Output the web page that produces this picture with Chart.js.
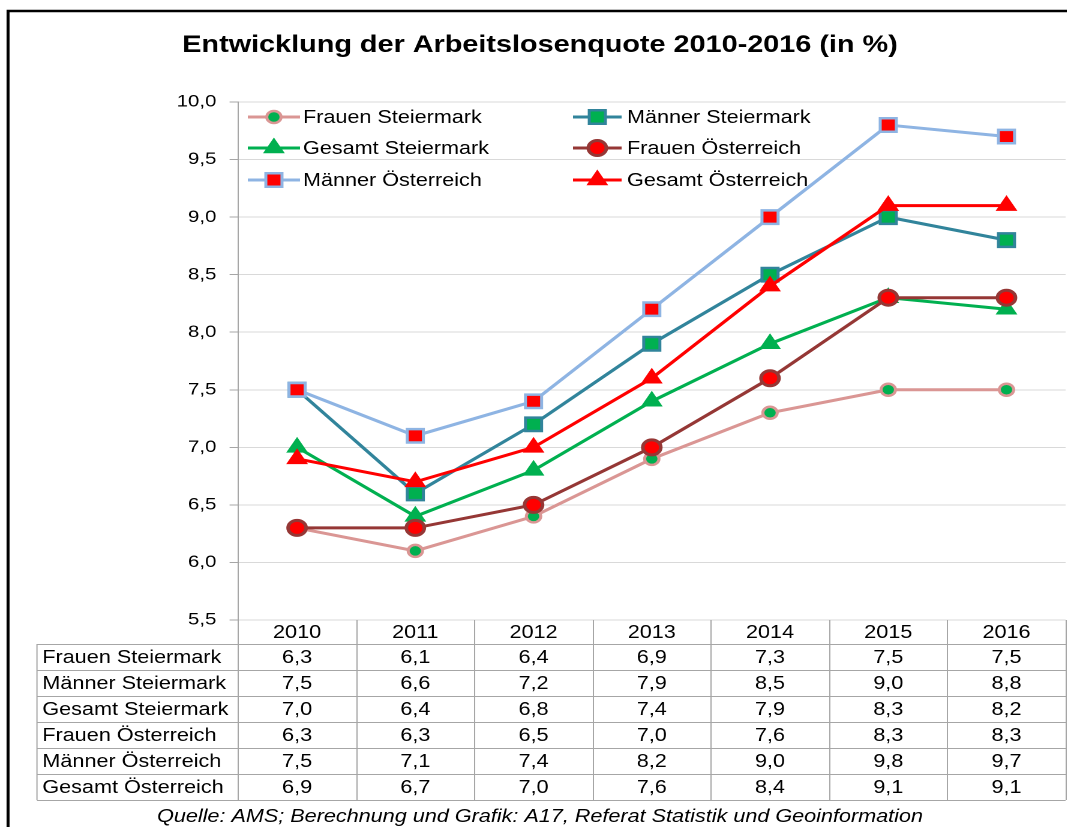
<!DOCTYPE html>
<html>
<head>
<meta charset="utf-8">
<script src="https://cdn.jsdelivr.net/npm/chart.js@4.4.1/dist/chart.umd.min.js"></script>
<style>
html, body { margin: 0; padding: 0; background: #fff; overflow: hidden; width: 1067px; height: 827px; }
#wrap { position: absolute; left: 0; top: 0; width: 900px; height: 827px; transform: scaleX(1.2); transform-origin: 0 0; }
</style>
</head>
<body>
<div id="wrap"><canvas id="chart" width="900" height="827"></canvas></div>
<script>
// ---- data ----
const years = ['2010', '2011', '2012', '2013', '2014', '2015', '2016'];
const seriesNames = ['Frauen Steiermark', 'Männer Steiermark', 'Gesamt Steiermark', 'Frauen Österreich', 'Männer Österreich', 'Gesamt Österreich'];
const frauenSteiermark   = [6.3, 6.1, 6.4, 6.9, 7.3, 7.5, 7.5];
const maennerSteiermark  = [7.5, 6.6, 7.2, 7.9, 8.5, 9.0, 8.8];
const gesamtSteiermark   = [7.0, 6.4, 6.8, 7.4, 7.9, 8.3, 8.2];
const frauenOesterreich  = [6.3, 6.3, 6.5, 7.0, 7.6, 8.3, 8.3];
const maennerOesterreich = [7.5, 7.1, 7.4, 8.2, 9.0, 9.8, 9.7];
const gesamtOesterreich  = [6.9, 6.7, 7.0, 7.6, 8.4, 9.1, 9.1];
const yMin = 5.5, yMax = 10.0, yStep = 0.5;
const titleText = 'Entwicklung der Arbeitslosenquote 2010-2016 (in %)';
const sourceText = 'Quelle: AMS; Berechnung und Grafik: A17, Referat Statistik und Geoinformation';

// ---- styles ----
const FONT = "'Liberation Sans', Arial, sans-serif";
const fmt = v => v.toFixed(1).replace('.', ',');
const styles = [
  { line: '#DA9694', fill: '#00B050', stroke: '#DA9694', shape: 'circle',   r: 6,   bw: 2.5 },
  { line: '#31849B', fill: '#00B050', stroke: '#31849B', shape: 'rect',     r: 9.5, bw: 2.5 },
  { line: '#00B050', fill: '#00B050', stroke: '#00B050', shape: 'triangle', r: 9.5, bw: 1 },
  { line: '#953735', fill: '#FF0000', stroke: '#953735', shape: 'circle',   r: 7.5, bw: 3 },
  { line: '#8EB4E3', fill: '#FF0000', stroke: '#8EB4E3', shape: 'rect',     r: 9.5, bw: 2.5 },
  { line: '#FF0000', fill: '#FF0000', stroke: '#FF0000', shape: 'triangle', r: 9.5, bw: 1 }
];
const seriesData = [frauenSteiermark, maennerSteiermark, gesamtSteiermark, frauenOesterreich, maennerOesterreich, gesamtOesterreich];

const datasets = seriesNames.map((name, i) => ({
  label: name,
  data: seriesData[i],
  borderColor: styles[i].line,
  borderWidth: 3,
  backgroundColor: styles[i].fill,
  pointStyle: styles[i].shape,
  pointRadius: styles[i].r,
  pointHoverRadius: styles[i].r,
  pointBackgroundColor: styles[i].fill,
  pointBorderColor: styles[i].stroke,
  pointBorderWidth: styles[i].bw,
  tension: 0,
  fill: false,
  order: seriesNames.length - i
}));

function drawMarker(ctx, s, x, y) {
  ctx.save();
  ctx.fillStyle = s.fill;
  ctx.strokeStyle = s.stroke;
  ctx.lineWidth = s.bw;
  ctx.beginPath();
  if (s.shape === 'circle') {
    ctx.arc(x, y, s.r, 0, Math.PI * 2);
  } else if (s.shape === 'rect') {
    const h = Math.SQRT1_2 * s.r;
    ctx.rect(x - h, y - h, 2 * h, 2 * h);
  } else {
    let a = 0;
    ctx.moveTo(x + Math.sin(a) * s.r, y - Math.cos(a) * s.r);
    a += 2 * Math.PI / 3;
    ctx.lineTo(x + Math.sin(a) * s.r, y - Math.cos(a) * s.r);
    a += 2 * Math.PI / 3;
    ctx.lineTo(x + Math.sin(a) * s.r, y - Math.cos(a) * s.r);
    ctx.closePath();
  }
  ctx.fill();
  ctx.stroke();
  ctx.restore();
}

const decorPlugin = {
  id: 'decor',
  afterDraw(chart) {
    const ctx = chart.ctx;
    const area = chart.chartArea;
    const xs = chart.scales.x;
    ctx.save();

    // frame
    ctx.strokeStyle = '#000';
    ctx.lineWidth = 2.5;
    ctx.strokeRect(6.7, 11, 2000, 2000);

    // title
    ctx.fillStyle = '#000';
    ctx.font = 'bold 24px ' + FONT;
    ctx.textAlign = 'center';
    ctx.textBaseline = 'alphabetic';
    ctx.fillText(titleText, 450, 52);

    // legend (two columns, three rows)
    const legRows = [117, 148, 180];
    const legCols = [
      { x1: 206.5, x2: 250, tx: 252.5 },
      { x1: 477.5, x2: 518, tx: 522.5 }
    ];
    ctx.font = '18px ' + FONT;
    ctx.textAlign = 'left';
    ctx.textBaseline = 'middle';
    seriesNames.forEach((name, i) => {
      const col = legCols[i % 2];
      const y = legRows[Math.floor(i / 2)];
      const s = styles[i];
      ctx.strokeStyle = s.line;
      ctx.lineWidth = 3;
      ctx.beginPath();
      ctx.moveTo(col.x1, y);
      ctx.lineTo(col.x2, y);
      ctx.stroke();
      drawMarker(ctx, s, (col.x1 + col.x2) / 2, y);
      ctx.fillStyle = '#000';
      ctx.fillText(name, col.tx, y + 1);
    });

    // data table
    const colW = xs.getPixelForValue(1) - xs.getPixelForValue(0);
    const top = area.bottom;
    const headBottom = top + 24;
    const rowH = 26;
    const nRows = seriesNames.length;
    const bottom = headBottom + rowH * nRows;
    const labelLeft = 30.8;
    const rightEdge = xs.getPixelForValue(years.length - 1) + colW / 2;

    ctx.strokeStyle = '#A6A6A6';
    ctx.lineWidth = 1;
    ctx.beginPath();
    for (let k = 0; k <= years.length; k++) {
      const x = Math.round(xs.getPixelForValue(0) - colW / 2 + k * colW) + 0.5;
      ctx.moveTo(x, top);
      ctx.lineTo(x, bottom);
    }
    ctx.moveTo(labelLeft, headBottom);
    ctx.lineTo(labelLeft, bottom);
    for (let r = 0; r <= nRows; r++) {
      const y = Math.round(headBottom + r * rowH) + 0.5;
      ctx.moveTo(labelLeft, y);
      ctx.lineTo(rightEdge, y);
    }
    ctx.stroke();

    ctx.fillStyle = '#000';
    ctx.font = '18px ' + FONT;
    ctx.textBaseline = 'middle';
    ctx.textAlign = 'center';
    years.forEach((yr, i) => {
      ctx.fillText(yr, xs.getPixelForValue(i), top + 13);
    });
    chart.data.datasets.forEach((ds, r) => {
      const cy = headBottom + r * rowH + rowH / 2 + 1;
      ctx.textAlign = 'left';
      ctx.fillText(ds.label, labelLeft + 4.5, cy);
      ctx.textAlign = 'center';
      ds.data.forEach((v, i) => {
        ctx.fillText(fmt(v), xs.getPixelForValue(i), cy);
      });
    });

    // source
    ctx.font = 'italic 18px ' + FONT;
    ctx.textAlign = 'center';
    ctx.fillText(sourceText, 450, 817);

    ctx.restore();
  }
};

new Chart(document.getElementById('chart'), {
  type: 'line',
  data: { labels: years, datasets },
  options: {
    responsive: false,
    maintainAspectRatio: false,
    devicePixelRatio: 2,
    animation: false,
    layout: { padding: { left: 0, right: 7.5, top: 102, bottom: 207 } },
    plugins: { legend: { display: false }, title: { display: false }, tooltip: { enabled: false } },
    scales: {
      x: { type: 'category', display: false, offset: true },
      y: {
        min: yMin, max: yMax,
        afterFit: s => { s.width = 198.3; },
        afterBuildTicks: s => {
          const t = [];
          for (let v = yMin; v <= yMax + 1e-9; v += yStep) t.push({ value: Math.round(v * 10) / 10 });
          s.ticks = t;
        },
        ticks: {
          callback: v => fmt(v),
          color: '#000',
          font: { family: FONT, size: 17 },
          padding: 11
        },
        grid: { color: '#D9D9D9', lineWidth: 1, tickLength: 7, tickColor: '#A6A6A6', drawTicks: true },
        border: { color: '#A6A6A6', width: 1 }
      }
    }
  },
  plugins: [decorPlugin]
});
</script>
</body>
</html>
